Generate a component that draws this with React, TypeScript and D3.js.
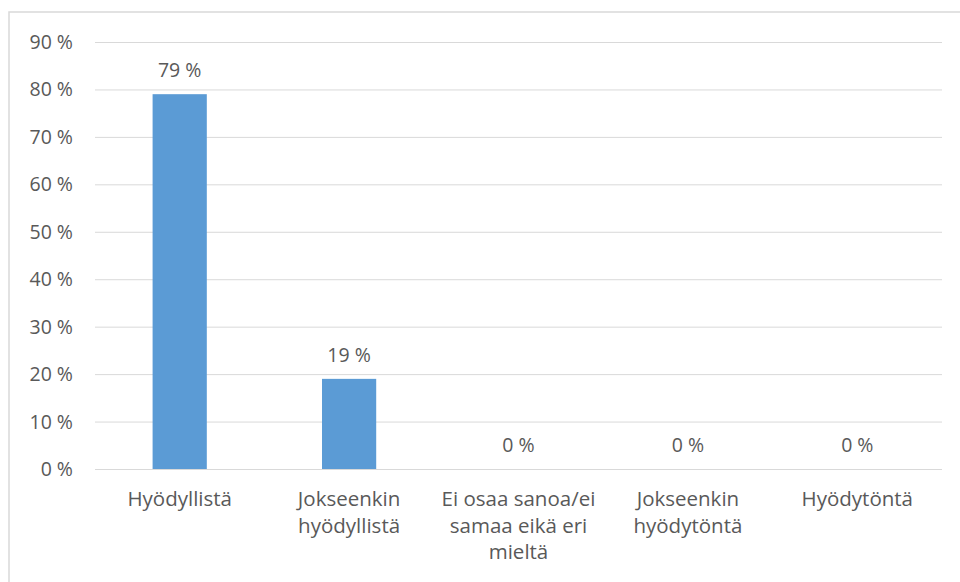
import React, { useEffect, useRef } from 'react';
import * as d3 from 'd3';

const categories: string[][] = [
    ['Hyödyllistä'],
    ['Jokseenkin', 'hyödyllistä'],
    ['Ei osaa sanoa/ei', 'samaa eikä eri', 'mieltä'],
    ['Jokseenkin', 'hyödytöntä'],
    ['Hyödytöntä'],
];
const values = [79, 19, 0, 0, 0];
const yTicks = [0, 10, 20, 30, 40, 50, 60, 70, 80, 90];

const W = 960;
const H = 582;
const FONT = '"Open Sans", Lato, sans-serif';
const FS = '19.5px';
const TEXT = '#595959';
const GRID = '#d9d9d9';

export default function App() {
    const svgRef = useRef<SVGSVGElement>(null);

    useEffect(() => {
        if (!svgRef.current) return;
        const svg = d3.select(svgRef.current);
        svg.selectAll('*').remove();

        const margin = { top: 42, right: 18, bottom: 113, left: 95 };
        const width = W - margin.left - margin.right;
        const height = H - margin.top - margin.bottom;

        // chart frame (only top and left edges visible in the crop)
        svg.append('path')
            .attr('d', `M9,${H} V12 H${W}`)
            .attr('fill', 'none')
            .attr('stroke', GRID)
            .attr('stroke-width', 1.5);

        const g = svg.append('g')
            .attr('transform', `translate(${margin.left},${margin.top})`);

        const x = d3.scaleBand<number>()
            .domain(categories.map((_, i) => i))
            .range([0, width])
            .paddingInner(0.68)
            .paddingOuter(0.34);

        const y = d3.scaleLinear()
            .domain([0, 90])
            .range([height, 0]);

        // gridlines
        g.append('g')
            .selectAll('line')
            .data(yTicks)
            .join('line')
            .attr('x1', 0)
            .attr('x2', width)
            .attr('y1', d => y(d) + 0.5)
            .attr('y2', d => y(d) + 0.5)
            .attr('stroke', GRID)
            .attr('stroke-width', 1);

        // y tick labels
        g.append('g')
            .selectAll('text')
            .data(yTicks)
            .join('text')
            .attr('x', -22)
            .attr('y', d => y(d))
            .attr('dy', '0.36em')
            .attr('text-anchor', 'end')
            .attr('fill', TEXT)
            .style('font-family', FONT)
            .style('font-size', FS)
            .text(d => `${d} %`);

        // bars
        g.append('g')
            .selectAll('rect')
            .data(values)
            .join('rect')
            .attr('x', (_, i) => x(i)!)
            .attr('width', x.bandwidth())
            .attr('y', d => y(d))
            .attr('height', d => height - y(d))
            .attr('fill', '#5b9bd5');

        // value labels
        g.append('g')
            .selectAll('text')
            .data(values)
            .join('text')
            .attr('x', (_, i) => x(i)! + x.bandwidth() / 2)
            .attr('y', d => y(d) - 17)
            .attr('text-anchor', 'middle')
            .attr('fill', TEXT)
            .style('font-family', FONT)
            .style('font-size', FS)
            .text(d => `${d} %`);

        // category labels, wrapped like the original
        const cat = g.append('g')
            .selectAll('text')
            .data(categories)
            .join('text')
            .attr('x', (_, i) => x(i)! + x.bandwidth() / 2)
            .attr('y', height + 37)
            .attr('text-anchor', 'middle')
            .attr('fill', TEXT)
            .style('font-family', FONT)
            .style('font-size', '20.5px');

        cat.selectAll('tspan')
            .data(d => d)
            .join('tspan')
            .attr('x', function () {
                return (this.parentNode as SVGTextElement).getAttribute('x');
            })
            .attr('dy', (_, i) => (i === 0 ? 0 : 26.5))
            .text(d => d);
    }, []);

    return (
        <svg
            ref={svgRef}
            width={W}
            height={H}
            style={{ position: 'absolute', left: 0, top: 0, background: '#fff' }}
        />
    );
}
